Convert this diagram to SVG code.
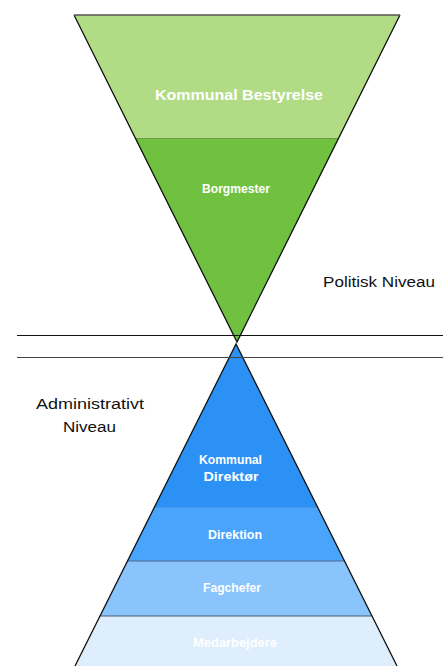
<svg xmlns="http://www.w3.org/2000/svg" width="443" height="666" viewBox="0 0 443 666">
<style>
.lbl{font-family:"Liberation Sans",Arial,sans-serif;font-weight:bold;fill:#ffffff;text-anchor:middle}
.side{font-family:"Liberation Sans",Arial,sans-serif;fill:#111111;text-anchor:middle;font-size:15.5px}
.out{fill:none;stroke:#111111;stroke-width:1.3;stroke-linejoin:miter}
</style>
<rect width="443" height="666" fill="#ffffff"/>
<g id="kommunal-bestyrelse">
<polygon points="74,15 400,15 339,138.5 135,138.5" fill="#b1dc85"/>
<text class="lbl" x="239" y="100" font-size="15" textLength="168" lengthAdjust="spacingAndGlyphs">Kommunal Bestyrelse</text>
</g>
<g id="borgmester">
<polygon points="135,138.5 339,138.5 237,342" fill="#70c140"/>
<line x1="135" y1="138.5" x2="339" y2="138.5" stroke="#6a9a4a" stroke-width="1"/>
<text class="lbl" x="236" y="193" font-size="12.5" textLength="68" lengthAdjust="spacingAndGlyphs">Borgmester</text>
</g>
<g id="kommunal-direktor">
<polygon points="236,344 317.5,507 154.5,507" fill="#2c91f5"/>
<text class="lbl" x="230.5" y="464" font-size="12.5" textLength="63" lengthAdjust="spacingAndGlyphs">Kommunal</text>
<text class="lbl" x="231" y="481" font-size="12.5" textLength="55" lengthAdjust="spacingAndGlyphs">Direktør</text>
</g>
<g id="direktion">
<polygon points="154.5,507 317.5,507 344.5,561 127.5,561" fill="#4aa4fc"/>
<line x1="154.5" y1="507" x2="317.5" y2="507" stroke="#3a8ee0" stroke-width="1"/>
<text class="lbl" x="235" y="539" font-size="12.5" textLength="54" lengthAdjust="spacingAndGlyphs">Direktion</text>
</g>
<g id="fagchefer">
<polygon points="127.5,561 344.5,561 372,616 100,616" fill="#8ac4fc"/>
<line x1="127.5" y1="561" x2="344.5" y2="561" stroke="#4a6a8c" stroke-width="1.2"/>
<text class="lbl" x="232" y="592" font-size="12.5" textLength="58" lengthAdjust="spacingAndGlyphs">Fagchefer</text>
</g>
<g id="medarbejdere">
<polygon points="100,616 372,616 397,666 75,666" fill="#deeefd"/>
<line x1="100" y1="616" x2="372" y2="616" stroke="#4a5a6a" stroke-width="1.2"/>
<text class="lbl" x="235" y="647" font-size="12.5" textLength="84" lengthAdjust="spacingAndGlyphs" fill="#f6faff">Medarbejdere</text>
</g>
<g id="connectors">
<path class="out" d="M74,15 L237,342 L400,15"/>
<line x1="74" y1="15" x2="400" y2="15" stroke="#555555" stroke-width="1.3"/>
<path class="out" d="M75,666 L236,344 L397,666"/>
<line x1="17" y1="335.5" x2="443" y2="335.5" stroke="#111111" stroke-width="1"/>
<line x1="17" y1="357.5" x2="443" y2="357.5" stroke="#444444" stroke-width="1"/>
</g>
<g id="politisk-niveau">
<text class="side" x="379" y="287" textLength="112" lengthAdjust="spacingAndGlyphs">Politisk Niveau</text>
</g>
<g id="administrativt-niveau">
<text class="side" x="90" y="409" textLength="108" lengthAdjust="spacingAndGlyphs">Administrativt</text>
<text class="side" x="89.5" y="432" textLength="53" lengthAdjust="spacingAndGlyphs">Niveau</text>
</g>
</svg>
